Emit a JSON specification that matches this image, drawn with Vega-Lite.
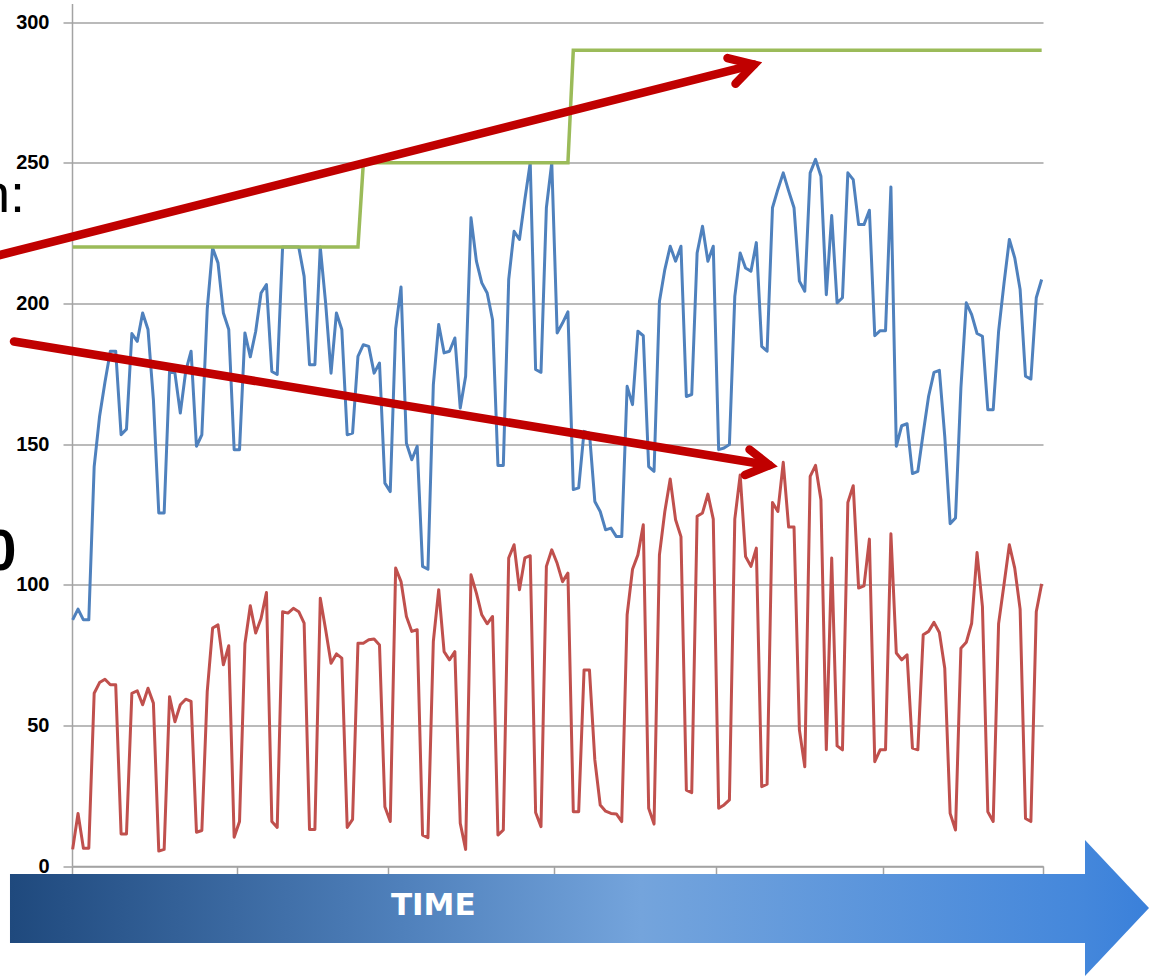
{
  "$schema": "https://vega.github.io/schema/vega-lite/v6.json",
  "width": 971,
  "height": 862.5,
  "autosize": {"type": "none"},
  "padding": {"left": 72, "top": 3.5, "right": 106, "bottom": 110},
  "background": "white",
  "config": {
    "view": {"stroke": null},
    "axis": {"title": null, "domainColor": "#A3A3A3", "domainWidth": 1.5, "tickColor": "#A3A3A3", "tickWidth": 1.5, "gridColor": "#A3A3A3", "gridWidth": 1.5}
  },
  "datasets": {
    "series": [
      {"d":0,"blue":87.5,"red":5.9,"cap":220},{"d":1,"blue":91.3,"red":18.7,"cap":220},{"d":2,"blue":87.5,"red":6.3,"cap":220},{"d":3,"blue":87.5,"red":6.3,"cap":220},{"d":4,"blue":142,"red":61.4,"cap":220},{"d":5,"blue":159.8,"red":65.2,"cap":220},{"d":6,"blue":172,"red":66.4,"cap":220},{"d":7,"blue":183,"red":64.4,"cap":220},{"d":8,"blue":183,"red":64.4,"cap":220},{"d":9,"blue":153.3,"red":11.4,"cap":220},
      {"d":10,"blue":155.3,"red":11.4,"cap":220},{"d":11,"blue":189.3,"red":61.4,"cap":220},{"d":12,"blue":186.5,"red":62.3,"cap":220},{"d":13,"blue":196.6,"red":57.3,"cap":220},{"d":14,"blue":190.7,"red":63.2,"cap":220},{"d":15,"blue":165.8,"red":57.9,"cap":220},{"d":16,"blue":125.5,"red":5.3,"cap":220},{"d":17,"blue":125.5,"red":5.9,"cap":220},{"d":18,"blue":175.8,"red":60.2,"cap":220},{"d":19,"blue":175.2,"red":51.3,"cap":220},
      {"d":20,"blue":161,"red":57.3,"cap":220},{"d":21,"blue":175.8,"red":59.3,"cap":220},{"d":22,"blue":183,"red":58.5,"cap":220},{"d":23,"blue":149.2,"red":12,"cap":220},{"d":24,"blue":153.3,"red":12.6,"cap":220},{"d":25,"blue":198,"red":62,"cap":220},{"d":26,"blue":219.7,"red":84.6,"cap":220},{"d":27,"blue":214.4,"red":85.7,"cap":220},{"d":28,"blue":196.6,"red":71.5,"cap":220},{"d":29,"blue":190.7,"red":78.3,"cap":220},
      {"d":30,"blue":148,"red":10.2,"cap":220},{"d":31,"blue":148,"red":15.8,"cap":220},{"d":32,"blue":189.5,"red":79,"cap":220},{"d":33,"blue":181,"red":92.5,"cap":220},{"d":34,"blue":190,"red":82.8,"cap":220},{"d":35,"blue":203.7,"red":88,"cap":220},{"d":36,"blue":206.7,"red":97.2,"cap":220},{"d":37,"blue":175.8,"red":15.8,"cap":220},{"d":38,"blue":174.7,"red":13.7,"cap":220},{"d":39,"blue":220,"red":90.4,"cap":220},
      {"d":40,"blue":220,"red":89.9,"cap":220},{"d":41,"blue":220,"red":91.6,"cap":220},{"d":42,"blue":220,"red":90.4,"cap":220},{"d":43,"blue":209.6,"red":86.3,"cap":220},{"d":44,"blue":178.2,"red":13,"cap":220},{"d":45,"blue":178.2,"red":13,"cap":220},{"d":46,"blue":220,"red":95.2,"cap":220},{"d":47,"blue":200,"red":84,"cap":220},{"d":48,"blue":175.2,"red":72.1,"cap":220},{"d":49,"blue":196.6,"red":75.4,"cap":220},
      {"d":50,"blue":190.7,"red":73.9,"cap":220},{"d":51,"blue":153.3,"red":13.7,"cap":220},{"d":52,"blue":153.9,"red":16.6,"cap":220},{"d":53,"blue":181.2,"red":79.2,"cap":220},{"d":54,"blue":185.3,"red":79.2,"cap":250},{"d":55,"blue":184.7,"red":80.4,"cap":250},{"d":56,"blue":175.2,"red":80.7,"cap":250},{"d":57,"blue":178.8,"red":78.6,"cap":250},{"d":58,"blue":136.1,"red":21.1,"cap":250},{"d":59,"blue":133.1,"red":15.8,"cap":250},
      {"d":60,"blue":191,"red":105.9,"cap":250},{"d":61,"blue":205.8,"red":101.1,"cap":250},{"d":62,"blue":150.3,"red":88.7,"cap":250},{"d":63,"blue":144.4,"red":83.4,"cap":250},{"d":64,"blue":149.2,"red":84,"cap":250},{"d":65,"blue":106.5,"red":11,"cap":250},{"d":66,"blue":105.5,"red":10.1,"cap":250},{"d":67,"blue":171,"red":79.8,"cap":250},{"d":68,"blue":192.5,"red":98.2,"cap":250},{"d":69,"blue":182.4,"red":76.2,"cap":250},
      {"d":70,"blue":183,"red":73.3,"cap":250},{"d":71,"blue":187.7,"red":76.2,"cap":250},{"d":72,"blue":162.8,"red":15.2,"cap":250},{"d":73,"blue":174.1,"red":5.9,"cap":250},{"d":74,"blue":230.4,"red":103.5,"cap":250},{"d":75,"blue":215,"red":97,"cap":250},{"d":76,"blue":207.3,"red":89.3,"cap":250},{"d":77,"blue":203.7,"red":86.1,"cap":250},{"d":78,"blue":194.2,"red":88.7,"cap":250},{"d":79,"blue":142.4,"red":11,"cap":250},
      {"d":80,"blue":142.4,"red":12.8,"cap":250},{"d":81,"blue":208.5,"red":109.5,"cap":250},{"d":82,"blue":225.6,"red":114.2,"cap":250},{"d":83,"blue":222.7,"red":98.2,"cap":250},{"d":84,"blue":236.9,"red":109.5,"cap":250},{"d":85,"blue":250,"red":110.3,"cap":250},{"d":86,"blue":176.5,"red":19,"cap":250},{"d":87,"blue":175.5,"red":14,"cap":250},{"d":88,"blue":234,"red":106.5,"cap":250},{"d":89,"blue":250,"red":112.4,"cap":250},
      {"d":90,"blue":189.5,"red":107.6,"cap":250},{"d":91,"blue":193,"red":101.1,"cap":250},{"d":92,"blue":197,"red":104.1,"cap":250},{"d":93,"blue":133.8,"red":19.3,"cap":290},{"d":94,"blue":134.4,"red":19.3,"cap":290},{"d":95,"blue":154.5,"red":69.7,"cap":290},{"d":96,"blue":153.9,"red":69.7,"cap":290},{"d":97,"blue":129.6,"red":37.7,"cap":290},{"d":98,"blue":126,"red":21.7,"cap":290},{"d":99,"blue":119.5,"red":19.5,"cap":290},
      {"d":100,"blue":120.1,"red":18.7,"cap":290},{"d":101,"blue":117.1,"red":18.5,"cap":290},{"d":102,"blue":117.1,"red":15.8,"cap":290},{"d":103,"blue":170.5,"red":89.3,"cap":290},{"d":104,"blue":164,"red":105.5,"cap":290},{"d":105,"blue":190.1,"red":110.6,"cap":290},{"d":106,"blue":188.5,"red":121.3,"cap":290},{"d":107,"blue":142,"red":20.5,"cap":290},{"d":108,"blue":140.3,"red":14.9,"cap":290},{"d":109,"blue":200.7,"red":110.6,"cap":290},
      {"d":110,"blue":212,"red":126,"cap":290},{"d":111,"blue":220.3,"red":137.6,"cap":290},{"d":112,"blue":215,"red":123.1,"cap":290},{"d":113,"blue":220.3,"red":117.1,"cap":290},{"d":114,"blue":166.9,"red":27,"cap":290},{"d":115,"blue":167.6,"red":26.1,"cap":290},{"d":116,"blue":217.9,"red":124.3,"cap":290},{"d":117,"blue":227.4,"red":125.5,"cap":290},{"d":118,"blue":215,"red":132.2,"cap":290},{"d":119,"blue":220.3,"red":123.3,"cap":290},
      {"d":120,"blue":148,"red":20.5,"cap":290},{"d":121,"blue":148.6,"red":21.7,"cap":290},{"d":122,"blue":149.8,"red":23.5,"cap":290},{"d":123,"blue":202.5,"red":123.3,"cap":290},{"d":124,"blue":217.9,"red":139,"cap":290},{"d":125,"blue":212.6,"red":110,"cap":290},{"d":126,"blue":211.4,"red":106.5,"cap":290},{"d":127,"blue":221.6,"red":113,"cap":290},{"d":128,"blue":184.7,"red":28.2,"cap":290},{"d":129,"blue":183,"red":29.1,"cap":290},
      {"d":130,"blue":234,"red":129.2,"cap":290},{"d":131,"blue":240.5,"red":126,"cap":290},{"d":132,"blue":246.4,"red":143.5,"cap":290},{"d":133,"blue":240,"red":120.5,"cap":290},{"d":134,"blue":234,"red":120.5,"cap":290},{"d":135,"blue":207.9,"red":48.4,"cap":290},{"d":136,"blue":204.3,"red":35.3,"cap":290},{"d":137,"blue":246.4,"red":138.5,"cap":290},{"d":138,"blue":251.2,"red":142.4,"cap":290},{"d":139,"blue":245.2,"red":130.2,"cap":290},
      {"d":140,"blue":203.1,"red":41.3,"cap":290},{"d":141,"blue":231.2,"red":109.5,"cap":290},{"d":142,"blue":200.2,"red":42.7,"cap":290},{"d":143,"blue":202,"red":41.3,"cap":290},{"d":144,"blue":246.4,"red":129.2,"cap":290},{"d":145,"blue":244,"red":135.2,"cap":290},{"d":146,"blue":228,"red":98.8,"cap":290},{"d":147,"blue":228,"red":99.6,"cap":290},{"d":148,"blue":233.1,"red":116.2,"cap":290},{"d":149,"blue":188.5,"red":37.1,"cap":290},
      {"d":150,"blue":190.3,"red":41.3,"cap":290},{"d":151,"blue":190.3,"red":41.3,"cap":290},{"d":152,"blue":241.4,"red":118.1,"cap":290},{"d":153,"blue":149.2,"red":75.7,"cap":290},{"d":154,"blue":156.5,"red":73.3,"cap":290},{"d":155,"blue":157.2,"red":75.1,"cap":290},{"d":156,"blue":139.5,"red":41.9,"cap":290},{"d":157,"blue":140.3,"red":41.3,"cap":290},{"d":158,"blue":153.9,"red":82.2,"cap":290},{"d":159,"blue":167,"red":83.4,"cap":290},
      {"d":160,"blue":175.5,"red":86.6,"cap":290},{"d":161,"blue":176.2,"red":83,"cap":290},{"d":162,"blue":152.7,"red":70.3,"cap":290},{"d":163,"blue":121.7,"red":18.7,"cap":290},{"d":164,"blue":123.7,"red":12.8,"cap":290},{"d":165,"blue":169.9,"red":77.4,"cap":290},{"d":166,"blue":200.2,"red":79.5,"cap":290},{"d":167,"blue":196,"red":86.3,"cap":290},{"d":168,"blue":189.3,"red":111.4,"cap":290},{"d":169,"blue":188.3,"red":92.2,"cap":290},
      {"d":170,"blue":162.2,"red":19.3,"cap":290},{"d":171,"blue":162.2,"red":15.8,"cap":290},{"d":172,"blue":190,"red":86.1,"cap":290},{"d":173,"blue":207,"red":100,"cap":290},{"d":174,"blue":222.7,"red":114.2,"cap":290},{"d":175,"blue":216.2,"red":105.9,"cap":290},{"d":176,"blue":204.9,"red":91.3,"cap":290},{"d":177,"blue":174.1,"red":16.9,"cap":290},{"d":178,"blue":173.1,"red":15.8,"cap":290},{"d":179,"blue":202,"red":90.4,"cap":290},
      {"d":180,"blue":208.5,"red":100.3,"cap":290}
    ],
    "arrows": [
      {"seg":"a1s","i":0,"x":-15.35,"y":216.3},{"seg":"a1s","i":1,"x":126.57,"y":284.9},
      {"seg":"a1h","i":0,"x":121.64,"y":287.2},{"seg":"a1h","i":1,"x":126.57,"y":284.9},{"seg":"a1h","i":2,"x":123.13,"y":278.1},
      {"seg":"a2s","i":0,"x":-10.89,"y":186.47},{"seg":"a2s","i":1,"x":129.43,"y":142.47},
      {"seg":"a2h","i":0,"x":125.73,"y":148.05},{"seg":"a2h","i":1,"x":129.43,"y":142.47},{"seg":"a2h","i":2,"x":124.89,"y":138.98}
    ],
    "bannerBody": [
      {"x":-11.64,"x2":188.3,"top":-2.84,"bot":-27.37}
    ],
    "bannerHead": [
      {"x":188.05,"top":9.24,"bot":-39.1},
      {"x":199.94,"top":-14.93,"bot":-14.93}
    ],
    "labels": [
      {"x":66.99,"y":-17.42,"t":"TIME","kind":"time"},
      {"x":-8.85,"y":232.47,"t":"n:","kind":"n"},
      {"x":-10.43,"y":105.21,"t":"0","kind":"zero"}
    ]
  },
  "layer": [
    {
      "data": {"name": "series"},
      "mark": {"type": "line", "color": "#4F81BD", "strokeWidth": 3, "strokeJoin": "round"},
      "encoding": {
        "x": {"field": "d", "type": "quantitative", "scale": {"domain": [-0.12, 180.25], "nice": false, "zero": false},
              "axis": {"values": [-0.12, 30.5, 58.5, 89.5, 119.5, 150.5, 180.25], "labels": false, "grid": false, "tickSize": 8, "title": null}},
        "y": {"field": "blue", "type": "quantitative", "scale": {"domain": [0, 306.6], "nice": false, "zero": false},
              "axis": {"values": [0, 50, 100, 150, 200, 250, 300], "grid": true, "tickSize": 9, "labelPadding": 14, "labelFont": "Liberation Sans", "labelFontWeight": "bold", "labelFontSize": 20, "labelColor": "#000000", "title": null}}
      }
    },
    {
      "data": {"name": "series"},
      "mark": {"type": "line", "color": "#C0504D", "strokeWidth": 3, "strokeJoin": "round"},
      "encoding": {
        "x": {"field": "d", "type": "quantitative", "scale": {"domain": [-0.12, 180.25], "nice": false, "zero": false}},
        "y": {"field": "red", "type": "quantitative", "scale": {"domain": [0, 306.6], "nice": false, "zero": false}}
      }
    },
    {
      "data": {"name": "series"},
      "mark": {"type": "line", "color": "#9BBB59", "strokeWidth": 3.5},
      "encoding": {
        "x": {"field": "d", "type": "quantitative", "scale": {"domain": [-0.12, 180.25], "nice": false, "zero": false}},
        "y": {"field": "cap", "type": "quantitative", "scale": {"domain": [0, 306.6], "nice": false, "zero": false}}
      }
    },
    {
      "data": {"name": "arrows"},
      "mark": {"type": "line", "color": "#C00000", "strokeWidth": 8.5, "strokeCap": "round", "strokeJoin": "miter"},
      "encoding": {
        "x": {"field": "x", "type": "quantitative", "scale": {"domain": [-0.12, 180.25], "nice": false, "zero": false}},
        "y": {"field": "y", "type": "quantitative", "scale": {"domain": [0, 306.6], "nice": false, "zero": false}},
        "detail": {"field": "seg"},
        "order": {"field": "i", "type": "quantitative"}
      }
    },
    {
      "data": {"name": "bannerBody"},
      "mark": {"type": "rect", "opacity": 1,
               "color": {"gradient": "linear", "x1": 0, "y1": 0, "x2": 1, "y2": 0,
                        "stops": [{"offset": 0, "color": "#1F497D"}, {"offset": 0.363, "color": "#4F80BB"}, {"offset": 0.586, "color": "#74A4DC"}, {"offset": 1, "color": "#4487DB"}]}},
      "encoding": {
        "x": {"field": "x", "type": "quantitative", "scale": {"domain": [-0.12, 180.25], "nice": false, "zero": false}},
        "x2": {"field": "x2"},
        "y": {"field": "top", "type": "quantitative", "scale": {"domain": [0, 306.6], "nice": false, "zero": false}},
        "y2": {"field": "bot"}
      }
    },
    {
      "data": {"name": "bannerHead"},
      "mark": {"type": "area", "orient": "vertical", "opacity": 1,
               "color": {"gradient": "linear", "x1": 0, "y1": 0, "x2": 1, "y2": 0,
                        "stops": [{"offset": 0, "color": "#4487DB"}, {"offset": 1, "color": "#3A80DA"}]}},
      "encoding": {
        "x": {"field": "x", "type": "quantitative", "scale": {"domain": [-0.12, 180.25], "nice": false, "zero": false}},
        "y": {"field": "top", "type": "quantitative", "scale": {"domain": [0, 306.6], "nice": false, "zero": false}},
        "y2": {"field": "bot"}
      }
    },
    {
      "data": {"name": "labels"},
      "transform": [{"filter": "datum.kind == 'time'"}],
      "mark": {"type": "text", "font": "DejaVu Sans", "fontWeight": "bold", "fontSize": 31, "color": "#FFFFFF", "align": "center", "baseline": "alphabetic"},
      "encoding": {
        "x": {"field": "x", "type": "quantitative", "scale": {"domain": [-0.12, 180.25], "nice": false, "zero": false}},
        "y": {"field": "y", "type": "quantitative", "scale": {"domain": [0, 306.6], "nice": false, "zero": false}},
        "text": {"field": "t"}
      }
    },
    {
      "data": {"name": "labels"},
      "transform": [{"filter": "datum.kind == 'n'"}],
      "mark": {"type": "text", "font": "Liberation Sans", "fontSize": 54, "color": "#000000", "align": "right", "baseline": "alphabetic"},
      "encoding": {
        "x": {"field": "x", "type": "quantitative", "scale": {"domain": [-0.12, 180.25], "nice": false, "zero": false}},
        "y": {"field": "y", "type": "quantitative", "scale": {"domain": [0, 306.6], "nice": false, "zero": false}},
        "text": {"field": "t"}
      }
    },
    {
      "data": {"name": "labels"},
      "transform": [{"filter": "datum.kind == 'zero'"}],
      "mark": {"type": "text", "font": "Liberation Sans", "fontWeight": "bold", "fontSize": 58, "color": "#000000", "align": "right", "baseline": "alphabetic"},
      "encoding": {
        "x": {"field": "x", "type": "quantitative", "scale": {"domain": [-0.12, 180.25], "nice": false, "zero": false}},
        "y": {"field": "y", "type": "quantitative", "scale": {"domain": [0, 306.6], "nice": false, "zero": false}},
        "text": {"field": "t"}
      }
    }
  ]
}
